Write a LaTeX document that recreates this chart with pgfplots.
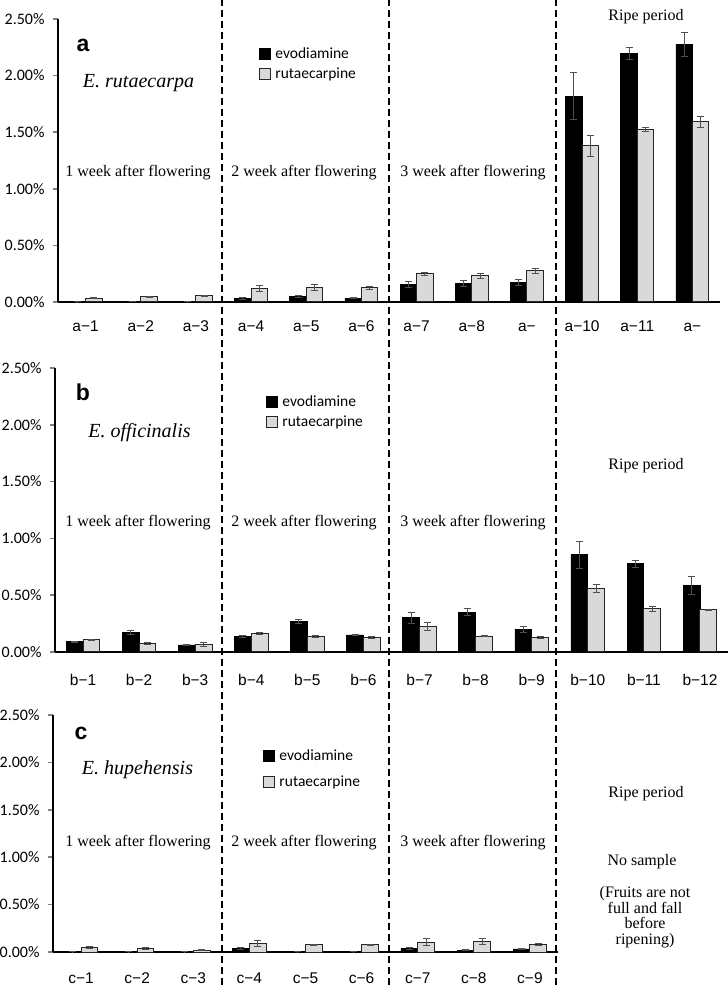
\documentclass[border=0pt]{standalone}
\usepackage{pgfplots}
\pgfplotsset{compat=1.18}
\usepackage{pgfplotstable}
\usepackage{fontspec}
\setmainfont{Liberation Serif}
\newfontfamily\carlito{Carlito}
\newfontfamily\arial{Liberation Sans}

\definecolor{lgray}{HTML}{D9D9D9}
\definecolor{errc}{HTML}{505050}

% x  evo  evoerr  rut  ruterr
\pgfplotstableread{
x evo evoerr rut ruterr
1 0.002 0.001 0.035 0.005
2 0.006 0.002 0.047 0.005
3 0.004 0.001 0.053 0.008
4 0.029 0.010 0.120 0.027
5 0.047 0.006 0.126 0.027
6 0.032 0.004 0.124 0.010
7 0.156 0.025 0.250 0.012
8 0.162 0.024 0.232 0.024
9 0.174 0.028 0.274 0.020
10 1.818 0.206 1.379 0.090
11 2.194 0.056 1.524 0.018
12 2.279 0.106 1.591 0.047
}\dataA
\pgfplotstableread{
x evo evoerr rut ruterr
1 0.091 0.004 0.106 0.004
2 0.173 0.016 0.076 0.010
3 0.062 0.006 0.067 0.015
4 0.138 0.010 0.164 0.012
5 0.270 0.015 0.135 0.006
6 0.150 0.006 0.126 0.008
7 0.302 0.050 0.223 0.038
8 0.352 0.035 0.138 0.005
9 0.202 0.026 0.129 0.006
10 0.856 0.117 0.560 0.032
11 0.777 0.032 0.381 0.023
12 0.584 0.079 0.372 0.006
}\dataB
\pgfplotstableread{
x evo evoerr rut ruterr
1 0.002 0.001 0.049 0.012
2 0.002 0.001 0.035 0.010
3 0.002 0.001 0.021 0.004
4 0.035 0.008 0.091 0.028
5 0.003 0.001 0.074 0.006
6 0.003 0.001 0.077 0.006
7 0.035 0.010 0.105 0.035
8 0.021 0.005 0.112 0.030
9 0.032 0.005 0.077 0.008
}\dataC

\pgfplotsset{
  panel/.style={
    scale only axis,
    axis lines=left,
    axis line style={-, line width=2pt},
    x axis line style={line width=2.5pt},
    ymin=0, ymax=2.5,
    ytick={0,0.5,1,1.5,2,2.5},
    yticklabels={0.00\%,0.50\%,1.00\%,1.50\%,2.00\%,2.50\%},
    yticklabel style={font=\carlito\fontsize{16}{18}\selectfont, xshift=-5pt},
    ytick style={line width=1.5pt},
    ytick align=outside,
    major tick length=5pt,
    xmin=0.5,
    xtick=data,
    xtick style={draw=none},
    xticklabel style={font=\arial\fontsize{15.5}{18}\selectfont, text height=11.5pt, text depth=0pt},
    extra x tick style={tick style={draw=black, line width=1.5pt}, xtick align=inside, major tick length=5pt},
    ybar=0pt,
    bar width=16.5pt,
    clip=false,
    legend style={draw=none, fill=none, inner sep=0pt, outer sep=0pt,
      font=\carlito\fontsize{15.5}{18}\selectfont, anchor=north west,
      legend cell align=left,
      /tikz/every odd column/.append style={column sep=2.5pt}},
    legend image code/.code={\draw[#1, line width=0.9pt] (0pt,-5.5pt) rectangle (11pt,5.5pt);},
  },
  evo/.style={fill=black, draw=black, line width=0.8pt,
    error bars/.cd, y dir=both, y explicit,
    error bar style={color=errc, line width=1pt},
    error mark options={rotate=90, mark size=3.5pt, color=errc, line width=1pt}},
  rut/.style={fill=lgray, draw=black!85, line width=1pt,
    error bars/.cd, y dir=both, y explicit,
    error bar style={color=errc, line width=1pt},
    error mark options={rotate=90, mark size=3.5pt, color=errc, line width=1pt}},
}

\begin{document}
\begin{tikzpicture}[x=1pt,y=1pt]
\path[use as bounding box] (0,0) rectangle (728,985);

% Panel a
\begin{axis}[panel, at={(58pt,683pt)}, anchor=south west,
  width=662pt, height=283pt, xmax=12.5,
  xticklabels={a−1,a−2,a−3,a−4,a−5,a−6,a−7,a−8,a−,a−10,a−11,a−},
  xticklabel style={yshift=-9pt},
  extra x ticks={1.5,2.5,3.5,4.5,5.5,6.5,7.5,8.5,9.5,10.5,11.5,12.5},
  extra x tick labels={},
  legend style={at={(0.3036,0.905)}, row sep=4pt}]
\addplot[evo] table[x=x, y=evo, y error=evoerr] {\dataA};
\addplot[rut] table[x=x, y=rut, y error=ruterr] {\dataA};
\legend{evodiamine,rutaecarpine}
\end{axis}

% Panel b
\begin{axis}[panel, at={(55pt,333pt)}, anchor=south west,
  width=673pt, height=284pt, xmax=12.5, bar width=16.8pt,
  xticklabels={b−1,b−2,b−3,b−4,b−5,b−6,b−7,b−8,b−9,b−10,b−11,b−12},
  xticklabel style={yshift=-13pt},
  extra x ticks={1.5,2.5,3.5,4.5,5.5,6.5,7.5,8.5,9.5,10.5,11.5,12.5},
  extra x tick labels={},
  legend style={at={(0.3135,0.91)}, row sep=4pt}]
\addplot[evo] table[x=x, y=evo, y error=evoerr] {\dataB};
\addplot[rut] table[x=x, y=rut, y error=ruterr] {\dataB};
\legend{evodiamine,rutaecarpine}
\end{axis}

% Panel c
\begin{axis}[panel, at={(53pt,33pt)}, anchor=south west,
  width=505pt, height=237pt, xmax=9.5, bar width=16.8pt,
  xticklabels={c−1,c−2,c−3,c−4,c−5,c−6,c−7,c−8,c−9},
  xticklabel style={yshift=-11pt},
  extra x ticks={1.5,2.5,3.5,4.5,5.5,6.5,7.5,8.5,9.5},
  extra x tick labels={},
  legend style={at={(0.416,0.86)}, row sep=9pt}]
\addplot[evo] table[x=x, y=evo, y error=evoerr] {\dataC};
\addplot[rut] table[x=x, y=rut, y error=ruterr] {\dataC};
\legend{evodiamine,rutaecarpine}
\end{axis}

% dashed separators
\foreach \xx in {222,389,556}{
  \draw[line width=2.5pt, dash pattern=on 7pt off 4pt] (\xx,0) -- (\xx,985);
}

% texts
\tikzset{per/.style={font=\fontsize{16}{18}\selectfont, inner sep=0pt},
         lab/.style={font=\arial\bfseries\fontsize{23}{26}\selectfont, inner sep=0pt},
         spc/.style={font=\itshape\fontsize{20}{22}\selectfont, inner sep=0pt}}
% panel a
\node[lab] at (83,940) {a};
\node[spc] at (138.5,902) {E. rutaecarpa};
\node[per] at (138,812) {1 week after flowering};
\node[per] at (304,812) {2 week after flowering};
\node[per] at (473,812) {3 week after flowering};
\node[per] at (646,968) {Ripe period};
% panel b
\node[lab] at (83,593) {b};
\node[spc] at (139.5,552) {E. officinalis};
\node[per] at (138,462) {1 week after flowering};
\node[per] at (304,462) {2 week after flowering};
\node[per] at (473,462) {3 week after flowering};
\node[per] at (646,519) {Ripe period};
% panel c
\node[lab] at (81,252) {c};
\node[spc] at (137.5,215) {E. hupehensis};
\node[per] at (138,142) {1 week after flowering};
\node[per] at (304,142) {2 week after flowering};
\node[per] at (473,142) {3 week after flowering};
\node[per] at (646,191) {Ripe period};
\node[per] at (642,123) {No sample};
\node[font=\fontsize{16}{15.5}\selectfont, inner sep=0pt, align=center] at (645,68) {(Fruits are not\\full and fall\\before\\ripening)};
\end{tikzpicture}
\end{document}
